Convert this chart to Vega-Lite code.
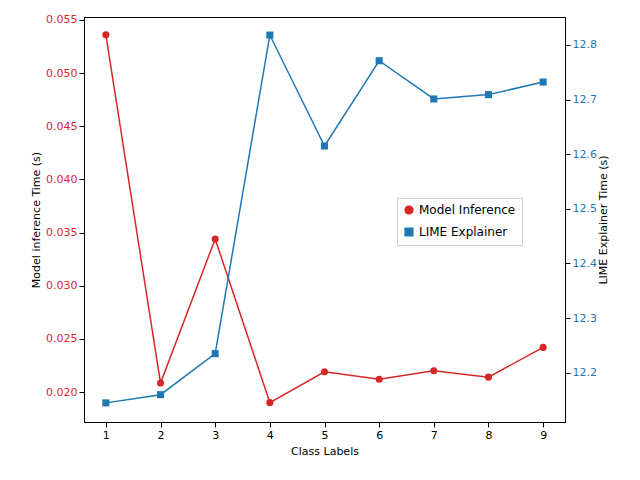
{
  "$schema": "https://vega.github.io/schema/vega-lite/v6.json",
  "width": 481,
  "height": 405,
  "autosize": "none",
  "padding": {"left": 84, "top": 17, "right": 75, "bottom": 58},
  "config": {
    "font": "DejaVu Sans",
    "view": {"stroke": "black"},
    "axis": {"grid": false, "labelFontSize": 11, "titleFontSize": 11, "titleFontWeight": "normal", "domainColor": "black", "tickColor": "black", "labelColor": "black", "titleColor": "black"}
  },
  "data": {"values": [
    {"c": 1, "m": 0.0536, "l": 12.145},
    {"c": 2, "m": 0.02085, "l": 12.16},
    {"c": 3, "m": 0.0344, "l": 12.235},
    {"c": 4, "m": 0.0190, "l": 12.818},
    {"c": 5, "m": 0.0219, "l": 12.615},
    {"c": 6, "m": 0.0212, "l": 12.771},
    {"c": 7, "m": 0.0220, "l": 12.701},
    {"c": 8, "m": 0.0214, "l": 12.709},
    {"c": 9, "m": 0.0242, "l": 12.732}
  ]},
  "encoding": {
    "x": {"field": "c", "type": "quantitative", "title": "Class Labels", "scale": {"domain": [0.6, 9.4], "nice": false, "zero": false}, "axis": {"values": [1,2,3,4,5,6,7,8,9], "titlePadding": 5}}
  },
  "layer": [
    {
      "transform": [{"calculate": "'Model Inference'", "as": "s"}],
      "mark": {"type": "line", "strokeWidth": 1.5, "point": {"filled": true, "size": 50}},
      "encoding": {
        "y": {"field": "m", "type": "quantitative", "title": "Model inference Time (s)", "scale": {"domain": [0.01718, 0.05528], "nice": false, "zero": false}, "axis": {"values": [0.020,0.025,0.030,0.035,0.040,0.045,0.050,0.055], "format": ".3f", "labelColor": "#d62728"}},
        "color": {"field": "s", "type": "nominal", "scale": {"domain": ["Model Inference", "LIME Explainer"], "range": ["#d62728", "#1f77b4"]}, "legend": {"orient": "none", "legendX": 313, "legendY": 181, "title": null, "strokeColor": "#ccc", "padding": 6, "fillColor": "white", "labelFontSize": 12, "symbolSize": 60, "rowPadding": 8}},
        "shape": {"field": "s", "type": "nominal", "scale": {"domain": ["Model Inference", "LIME Explainer"], "range": ["circle", "square"]}, "legend": null}
      }
    },
    {
      "transform": [{"calculate": "'LIME Explainer'", "as": "s"}],
      "mark": {"type": "line", "strokeWidth": 1.5, "point": {"filled": true, "size": 50}},
      "encoding": {
        "y": {"field": "l", "type": "quantitative", "title": "LIME Explainer Time (s)", "scale": {"domain": [12.110, 12.851], "nice": false, "zero": false}, "axis": {"orient": "right", "values": [12.2,12.3,12.4,12.5,12.6,12.7,12.8], "format": ".1f", "labelColor": "#1f77b4", "titleAngle": 270, "titleBaseline": "bottom", "titlePadding": 12}},
        "color": {"field": "s", "type": "nominal", "scale": {"domain": ["Model Inference", "LIME Explainer"], "range": ["#d62728", "#1f77b4"]}},
        "shape": {"field": "s", "type": "nominal", "scale": {"domain": ["Model Inference", "LIME Explainer"], "range": ["circle", "square"]}, "legend": null}
      }
    }
  ],
  "resolve": {"scale": {"y": "independent"}}
}
